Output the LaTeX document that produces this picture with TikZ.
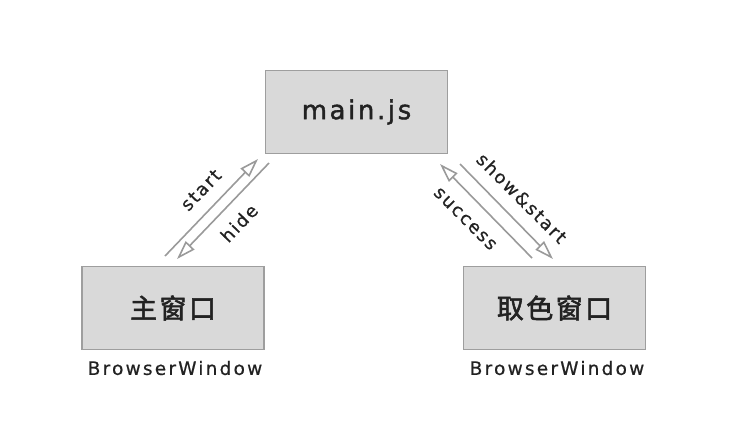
\documentclass[tikz,border=0pt]{standalone}
\usepackage{fontspec}
\setmainfont{DejaVu Sans}
\newfontfamily\cjk{Noto Sans CJK SC}
\usetikzlibrary{arrows.meta}
\definecolor{boxfill}{HTML}{D9D9D9}
\definecolor{boxline}{HTML}{9E9E9E}
\definecolor{txt}{HTML}{222222}
\definecolor{arr}{HTML}{9A9A9A}
\begin{document}
\begin{tikzpicture}[x=1pt,y=-1pt,
  box/.style={draw=boxline,line width=1.8pt,fill=boxfill,minimum width=182pt,minimum height=83pt,inner sep=0pt,text=txt},
  boxtext/.style={font=\fontsize{26}{30}\selectfont\addfontfeatures{LetterSpace=10,FakeBold=1.5}},
  cjktext/.style={font=\cjk\fontsize{27}{30}\selectfont\addfontfeatures{LetterSpace=9,FakeBold=2}},
  sub/.style={font=\fontsize{18.5}{22}\selectfont\addfontfeatures{LetterSpace=12,FakeBold=0.6},text=txt},
  lab/.style={font=\fontsize{18}{20}\selectfont\addfontfeatures{LetterSpace=10,FakeBold=0.6},text=txt,inner sep=0pt},
  flow/.style={draw=arr,line width=1.6pt,-{Triangle[open,length=19pt,width=12pt,fill=white]}}]
\useasboundingbox (0,0) rectangle (741,440);
\node[box,boxtext] (main) at (356.5,112) {main.js};
\node[box,cjktext] (w1) at (173,308) {主窗口};
\node[box,cjktext] (w2) at (554.5,308) {取色窗口};
\node[sub] (b1) at (175,368) {BrowserWindow};
\node[sub] (b2) at (557,368) {BrowserWindow};
\coordinate (s0) at (165,256);
\coordinate (s1) at (258,159);
\coordinate (h0) at (269,163);
\coordinate (h1) at (177,259);
\coordinate (c0) at (532,258);
\coordinate (c1) at (440,164);
\coordinate (t0) at (460,164);
\coordinate (t1) at (553,259);
\draw[flow] (s0) -- (s1);
\draw[flow] (h0) -- (h1);
\draw[flow] (c0) -- (c1);
\draw[flow] (t0) -- (t1);
\node[lab,rotate=46] (ls) at (201,190) {start};
\node[lab,rotate=46] (lh) at (239,223) {hide};
\node[lab,rotate=-45] (lt) at (522,198) {show\&start};
\node[lab,rotate=-45] (lc) at (465,219) {success};
\end{tikzpicture}
\end{document}
